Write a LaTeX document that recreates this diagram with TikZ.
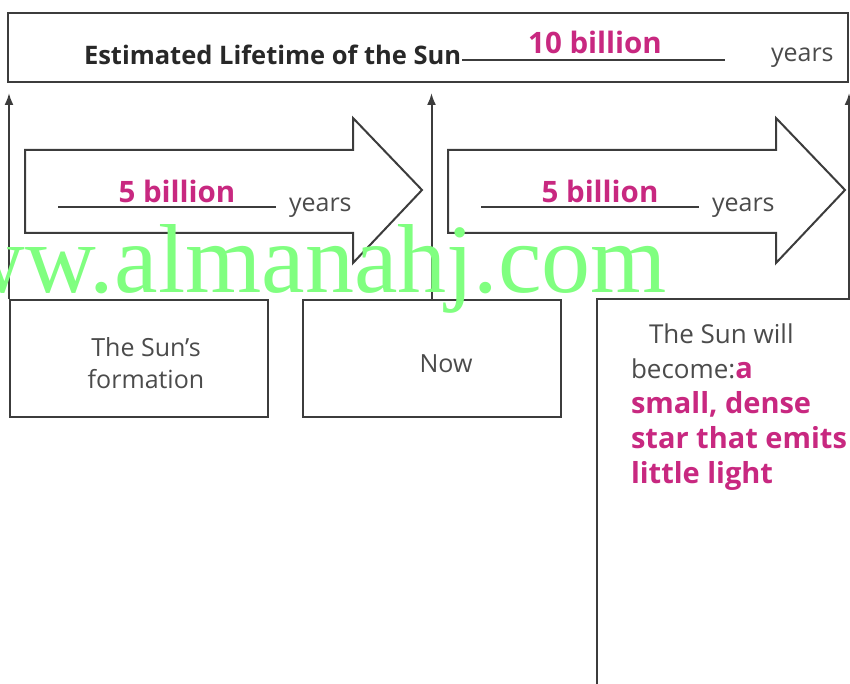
\documentclass[tikz,border=0pt]{standalone}
\usepackage{fontspec}
\setmainfont{Open Sans}
\newfontfamily\wmfont{Liberation Serif}
\usetikzlibrary{arrows.meta}

\definecolor{inkgray}{RGB}{60,60,60}
\definecolor{txtgray}{RGB}{75,75,75}
\definecolor{titlegray}{RGB}{40,40,40}
\definecolor{answermag}{RGB}{200,40,128}
\definecolor{wmgreen}{RGB}{128,255,128}

\begin{document}
\begin{tikzpicture}[x=1pt, y=-1pt, line width=2pt,
    framebox/.style={draw=inkgray, minimum width=258pt, minimum height=117pt, inner sep=0pt},
    boxtext/.style={align=center, inner sep=0pt, text=txtgray, font=\fontsize{25}{32}\selectfont},
    answer/.style={text=answermag, font=\bfseries\fontsize{29.5}{34}\selectfont, inner sep=0pt},
    unit/.style={text=txtgray, font=\fontsize{25}{30}\selectfont, inner sep=0pt},
    timeline/.style={draw=inkgray, -{Latex[length=12pt,width=9pt]}},
    blank/.style={draw=inkgray, line width=1.2pt}]
    \clip (0,0) rectangle (850,684);
    % lifetime bar
    \node[draw=inkgray, minimum width=840pt, minimum height=69pt, inner sep=0pt] (lifetime) at (428,47.5) {};
    \node[anchor=west, text=titlegray, font=\bfseries\fontsize{25.5}{30}\selectfont, inner sep=0pt] (title) at (83,55) {Estimated Lifetime of the Sun};
    \coordinate (blankend) at (725,60);
    \draw[blank] (title.east |- blankend) -- (blankend);
    \node[answer] (total) at (595,42) {10 billion};
    \node[unit, anchor=west] (totalunit) at (770,58) {years};
    % stages
    \node[framebox] (formation) at (139,358.5) {};
    \node[boxtext] (formationtext) at (146,363) {The Sun's\\formation};
    \node[framebox] (now) at (431.5,358.5) {};
    \node[boxtext] (nowtext) at (446,364) {Now};
    \node[framebox, minimum height=392pt, anchor=north west] (future) at (596,298) {};
    \node[anchor=north west, align=left, inner sep=0pt, text=txtgray, font=\fontsize{26}{35}\selectfont] (futuretext) at (630,323)
        {\hspace*{18pt}The Sun will\\become:{\bfseries\fontsize{29}{35}\selectfont\color{answermag}a}\\
         {\bfseries\fontsize{29}{35}\selectfont\color{answermag}small, dense}\\
         {\bfseries\fontsize{29}{35}\selectfont\color{answermag}star that emits}\\
         {\bfseries\fontsize{29}{35}\selectfont\color{answermag}little light}};
    % time marks
    \coordinate (tipline) at (0,93);
    \draw[timeline] (formation.north west) -- (formation.north west |- tipline);
    \draw[timeline] (now.north) -- (now.north |- tipline);
    \draw[timeline] (lifetime.south east |- future.north) -- (lifetime.south east |- tipline);
    % spans
    \foreach \x/\nm in {25/firsthalf, 448/secondhalf} {
        \draw[draw=inkgray] (\x,150) -- ++(328,0) -- ++(0,-32) -- ++(69,72) -- ++(-69,73) -- ++(0,-30) -- ++(-328,0) -- cycle;
        \node[answer] (\nm) at (\x+152,191) {5 billion};
        \draw[blank] (\x+33,207) -- (\x+251,207);
        \node[unit, anchor=west] (\nm unit) at (\x+263,208) {years};
    }
    \node[anchor=base west, text=wmgreen, font=\wmfont\fontsize{98}{98}\selectfont, inner sep=0pt] (watermark) at (-117,292) {www.almanahj.com};
\end{tikzpicture}
\end{document}
